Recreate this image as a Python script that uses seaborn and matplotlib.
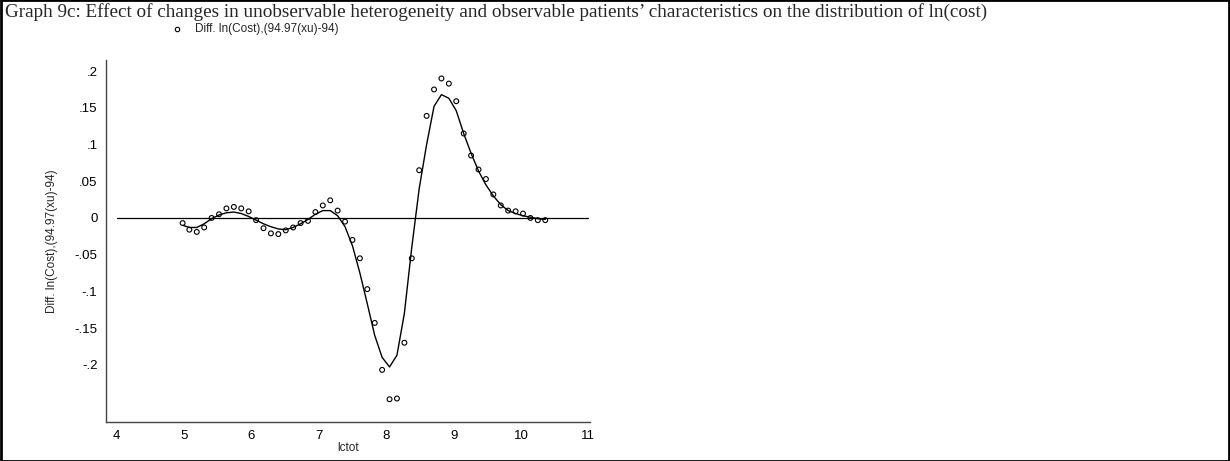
import matplotlib
matplotlib.use("Agg")
import matplotlib.pyplot as plt
import seaborn as sns
import pandas as pd

lctot = [4.98, 5.08, 5.19, 5.30, 5.41, 5.52, 5.63, 5.74, 5.85, 5.96, 6.07, 6.18, 6.29, 6.40,
         6.51, 6.62, 6.73, 6.84, 6.95, 7.06, 7.17, 7.28, 7.39, 7.50, 7.61, 7.72, 7.83, 7.94,
         8.05, 8.16, 8.27, 8.38, 8.49, 8.60, 8.71, 8.82, 8.93, 9.04, 9.15, 9.26, 9.37, 9.48,
         9.59, 9.70, 9.81, 9.92, 10.03, 10.14, 10.25, 10.36]
diff_points = [-0.007, -0.016, -0.019, -0.013, 0.000, 0.005, 0.013, 0.015, 0.013, 0.009, -0.003,
               -0.014, -0.021, -0.022, -0.017, -0.013, -0.007, -0.004, 0.008, 0.017, 0.024, 0.010,
               -0.005, -0.030, -0.055, -0.097, -0.143, -0.207, -0.247, -0.246, -0.170, -0.055,
               0.065, 0.139, 0.175, 0.190, 0.183, 0.159, 0.115, 0.085, 0.066, 0.053, 0.032,
               0.017, 0.010, 0.009, 0.006, 0.000, -0.003, -0.003]
diff_smooth = [-0.010, -0.013, -0.013, -0.008, -0.001, 0.004, 0.007, 0.008, 0.006, 0.002, -0.003,
               -0.008, -0.012, -0.015, -0.016, -0.013, -0.008, -0.002, 0.005, 0.010, 0.010, 0.003,
               -0.012, -0.038, -0.075, -0.117, -0.160, -0.190, -0.203, -0.187, -0.130, -0.040,
               0.040, 0.100, 0.152, 0.168, 0.163, 0.146, 0.115, 0.088, 0.064, 0.045, 0.030,
               0.018, 0.010, 0.006, 0.003, 0.001, -0.001, -0.002]
yticks = [-0.2, -0.15, -0.1, -0.05, 0, 0.05, 0.1, 0.15, 0.2]
ytick_labels = ["-.2", "-.15", "-.1", "-.05", "0", ".05", ".1", ".15", ".2"]
xticks = [4, 5, 6, 7, 8, 9, 10, 11]

df = pd.DataFrame({"lctot": lctot, "points": diff_points, "smooth": diff_smooth})

sns.set_style("white")
plt.rcParams["font.family"] = ["Liberation Sans", "DejaVu Sans"]

fig = plt.figure(figsize=(12.3, 4.61), dpi=100)
ax = fig.add_axes([0.086, 0.0846, 0.394, 0.785])

ax.axhline(0, xmin=(4 - 3.84) / (11.03 - 3.84), xmax=(11 - 3.84) / (11.03 - 3.84),
           color="black", lw=0.9)
sns.lineplot(data=df, x="lctot", y="smooth", color="black", lw=1.0, ax=ax)
sns.scatterplot(data=df, x="lctot", y="points", marker="o", s=12, facecolor="none",
                edgecolor="black", linewidth=0.8, ax=ax)

ax.set_xlim(3.84, 11.03)
ax.set_ylim(-0.278, 0.215)
ax.set_xticks(xticks)
ax.set_yticks(yticks)
ax.set_yticklabels(ytick_labels)
ax.tick_params(axis="both", direction="out", length=4, width=0.8, labelsize=9.5,
               colors="black", pad=2)
for side in ["top", "right"]:
    ax.spines[side].set_visible(False)
for side in ["left", "bottom"]:
    ax.spines[side].set_color("#444444")
    ax.spines[side].set_linewidth(1.0)
ax.set_xlabel("lctot", fontsize=8.5, labelpad=0)
ax.set_ylabel("Diff. ln(Cost),(94.97(xu)-94)", fontsize=8.5, labelpad=12)

# title, legend and frame
fig.text(0.004, 1 - 12 / 461, "Graph 9c: Effect of changes in unobservable heterogeneity and "
         "observable patients\u2019 characteristics on the distribution of ln(cost)",
         family=["Liberation Serif", "DejaVu Serif"], fontsize=13.8, va="center", ha="left")
fig.add_artist(plt.Rectangle((0.0008, 0.001), 0.9984, 0.998, fill=False, ec="black", lw=2,
                             transform=fig.transFigure))
fig.add_artist(plt.Line2D([177 / 1230], [1 - 29 / 461], marker="o", ms=3.2, mfc="none",
                          mec="black", mew=0.8, transform=fig.transFigure))
fig.text(195 / 1230, 1 - 29 / 461, "Diff. ln(Cost),(94.97(xu)-94)", fontsize=8.5,
         va="center", ha="left")

fig.savefig("out.png", dpi=100)
